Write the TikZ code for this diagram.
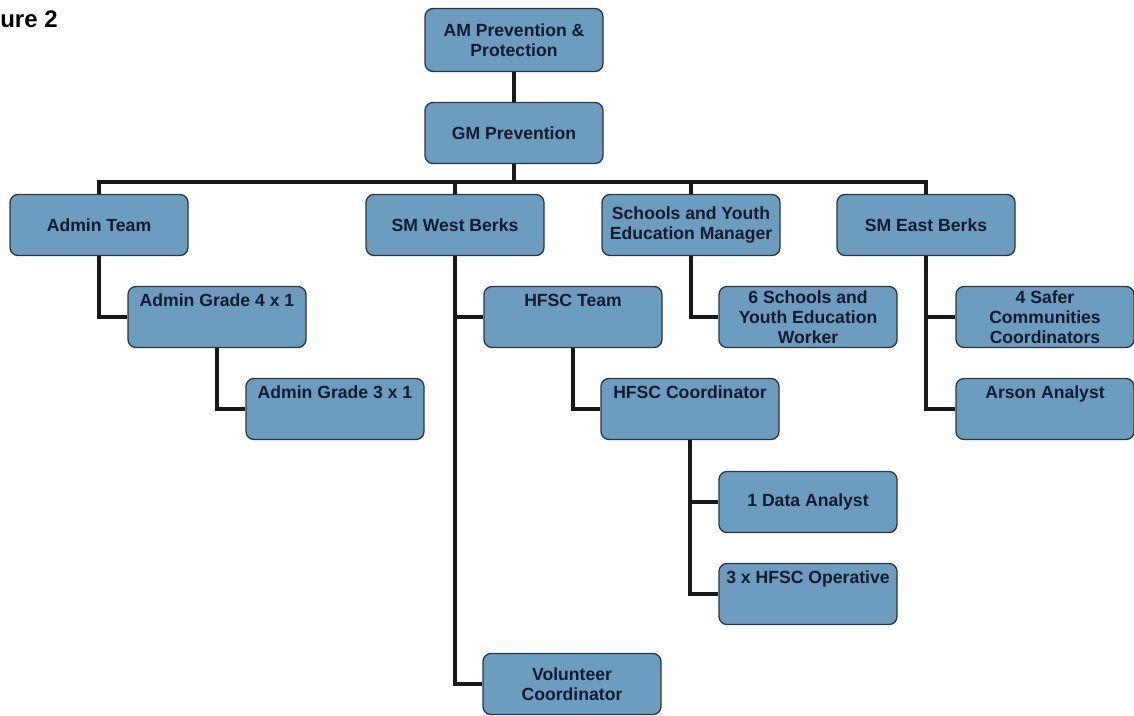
\documentclass[tikz,border=0pt]{standalone}
\usepackage{fontspec}
\setmainfont{Liberation Sans}
\definecolor{boxblue}{RGB}{108,156,190}
\definecolor{boxline}{RGB}{45,55,65}
\definecolor{boxtext}{RGB}{18,28,48}
\begin{document}
\begin{tikzpicture}[x=0.75pt,y=-0.75pt,
        box/.style={rectangle,rounded corners=6pt,draw=boxline,line width=1pt,fill=boxblue,
            text=boxtext,font=\fontsize{13.2}{15.2}\selectfont\bfseries,align=center,
            minimum width=133.5pt,minimum height=45.75pt,inner sep=2pt},
        topbox/.style={box,text height=12.8pt,text depth=28.95pt},
        link/.style={line width=2.6pt,black!90}]
    \useasboundingbox (0,0) rectangle (1134,715);
    \node [anchor=west,inner sep=0pt,font=\fontsize{18}{20}\selectfont\bfseries] (title) at (0,19) {ure 2};

    \node [box,minimum height=47.25pt] (am) at (514,40) {AM Prevention \&\\ Protection};
    \node [box] (gm) at (514,133) {GM Prevention};
    \coordinate (bus) at (514,182);

    \node [box] (admin) at (99,225) {Admin Team};
    \node [box] (smw) at (455,225) {SM West Berks};
    \node [box] (sye) at (691,225) {Schools and Youth\\ Education Manager};
    \node [box] (sme) at (926,225) {SM East Berks};

    \node [topbox] (ag4) at (217,317) {Admin Grade 4 x 1};
    \node [topbox] (ag3) at (335,409) {Admin Grade 3 x 1};
    \node [topbox] (hfsc) at (573,317) {HFSC Team};
    \node [topbox] (hfscc) at (690,409) {HFSC Coordinator};
    \node [box] (data) at (808,502) {1 Data Analyst};
    \node [topbox] (oper) at (808,594) {3 x HFSC Operative};
    \node [box] (vol) at (572,684) {Volunteer\\ Coordinator};
    \node [box] (syw) at (808,317) {6 Schools and\\ Youth Education\\ Worker};
    \node [box] (safer) at (1045,317) {4 Safer\\ Communities\\ Coordinators};
    \node [topbox] (arson) at (1045,409) {Arson Analyst};

    \draw [link] (am) -- (gm);
    \draw [link] (gm.south) -- (bus);
    \draw [link] (admin.north) |- (bus) -| (sme.north);
    \draw [link] (smw.north) -- (smw.north |- bus);
    \draw [link] (sye.north) -- (sye.north |- bus);
    \draw [link] (admin.south) |- (ag4.west);
    \draw [link] (ag4.south) |- (ag3.west);
    \draw [link] (smw.south) |- (hfsc.west);
    \draw [link] (smw.south) |- (vol.west);
    \draw [link] (hfsc.south) |- (hfscc.west);
    \draw [link] (hfscc.south) |- (data.west);
    \draw [link] (hfscc.south) |- (oper.west);
    \draw [link] (sye.south) |- (syw.west);
    \draw [link] (sme.south) |- (safer.west);
    \draw [link] (sme.south) |- (arson.west);
\end{tikzpicture}
\end{document}
